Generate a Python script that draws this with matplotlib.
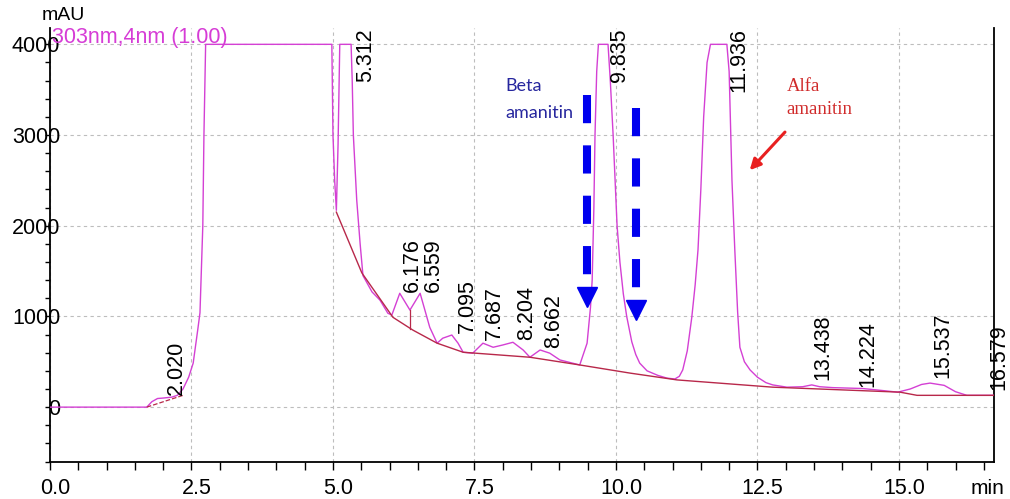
import matplotlib
matplotlib.use("Agg")
import matplotlib.pyplot as plt
import matplotlib.transforms as mtransforms
from matplotlib.ticker import MultipleLocator

# chromatogram trace (min, mAU)
t = [0.0, 1.6, 1.71, 1.8, 1.9, 2.0, 2.15, 2.25, 2.35, 2.45, 2.53, 2.61, 2.65, 2.70,
     2.72, 2.75, 4.98, 5.0, 5.03, 5.06, 5.09, 5.12, 5.32, 5.34, 5.36, 5.42, 5.48,
     5.53, 5.69, 5.83, 5.97, 6.04, 6.18, 6.36, 6.54, 6.71, 6.84, 6.94, 7.10, 7.21,
     7.30, 7.47, 7.65, 7.83, 8.00, 8.18, 8.36, 8.48, 8.66, 8.83, 9.01, 9.36, 9.49,
     9.55, 9.58, 9.61, 9.63, 9.66, 9.69, 9.86, 9.90, 9.95, 10.02, 10.07, 10.13,
     10.19, 10.28, 10.35, 10.42, 10.55, 10.74, 10.9, 11.04, 11.12, 11.18, 11.26,
     11.34, 11.40, 11.45, 11.50, 11.55, 11.61, 11.67, 11.96, 12.0, 12.05, 12.10,
     12.15, 12.19, 12.27, 12.37, 12.5, 12.65, 12.77, 13.02, 13.3, 13.46, 13.6,
     13.83, 14.1, 14.36, 14.6, 14.98, 15.2, 15.4, 15.55, 15.8, 16.0, 16.2, 16.68]
mau = [0, 0, 0, 60, 95, 100, 110, 130, 200, 330, 485, 850, 1040, 2000,
       3000, 4000, 4000, 3000, 2500, 2170, 2900, 4000, 4000, 3600, 3000, 2280, 1800,
       1450, 1270, 1180, 1035, 1015, 1255, 1070, 1255, 880, 705, 760, 795, 705,
       605, 595, 705, 660, 685, 715, 630, 550, 630, 595, 520, 465, 705,
       1100, 1400, 2200, 3000, 3700, 4000, 4000, 3600, 3000, 2000, 1600, 1250,
       1000, 720, 580, 485, 400, 350, 320, 310, 340, 410, 620,
       990, 1350, 1735, 2400, 3200, 3800, 4000, 4000, 3700, 2500, 1735,
       1050, 660, 500, 410, 330, 270, 245, 220, 225, 245, 225,
       215, 210, 205, 190, 165, 200, 250, 265, 240, 170, 130, 130]

# integration baseline
base_t = [5.06, 5.51, 6.06, 6.41, 6.84, 7.30, 8.48, 9.36, 10.25, 11.08, 12.77,
          15.02, 15.32, 16.68]
base_mau = [2150, 1480, 990, 850, 705, 605, 550, 465, 375, 300, 220, 165, 130, 130]
base0_t = [1.71, 2.35]
base0_mau = [0, 130]
drop_t = [6.36, 6.36]
drop_mau = [1070, 860]

peak_labels = ["2.020", "5.312", "6.176", "6.559", "7.095", "7.687", "8.204",
               "8.662", "9.835", "11.936", "13.438", "14.224", "15.537", "16.579"]
label_x = [2.24, 5.57, 6.40, 6.77, 7.37, 7.86, 8.43, 8.89, 10.07, 12.17,
           13.66, 14.45, 15.78, 16.76]
label_y = [132, 3585, 1270, 1270, 815, 740, 740, 650, 3585, 3475, 298, 220, 320, 188]

plt.rcParams['font.family'] = ['Liberation Sans', 'DejaVu Sans']

fig = plt.figure(figsize=(10.1, 4.99), dpi=100)
ax = fig.add_axes([50 / 1010, 37 / 499, 944 / 1010, 434 / 499])

ax.plot(t, mau, color='#d440d4', lw=1.0, zorder=3)
ax.plot(base_t, base_mau, color='#b8284a', lw=1.0, zorder=4)
ax.plot(base0_t, base0_mau, color='#b8284a', lw=0.9, ls='--', zorder=4)
ax.plot(drop_t, drop_mau, color='#b8284a', lw=0.9, zorder=4)

for s, x, y in zip(peak_labels, label_x, label_y):
    ax.text(x, y, s, rotation=90, ha='center', va='bottom', fontsize=15.5,
            color='black', clip_on=False, zorder=5)

# beta amanitin arrows
for x, y0, y1, yh in [(9.49, 3440, 1324, 1213), (10.35, 3298, 1180, 1070)]:
    ax.plot([x, x], [y0, y1], color='#0000ee', lw=5.8, ls=(0, (3.5, 2.75)),
            solid_capstyle='butt', dash_capstyle='butt', zorder=6)
    ax.plot(x, yh, marker='v', ms=15, color='#0000ee', zorder=6)

ax.text(8.04, 3540, "Beta", family='Lato', fontsize=13, color='#26269e',
        ha='left', va='center')
ax.text(8.04, 3243, "amanitin", family='Lato', fontsize=13, color='#26269e',
        ha='left', va='center')

ax.text(13.02, 3540, "Alfa", family='Liberation Serif', fontsize=13.5,
        color='#d02a2a', ha='left', va='center')
ax.text(13.02, 3276, "amanitin", family='Liberation Serif', fontsize=13.5,
        color='#d02a2a', ha='left', va='center')
ax.annotate("", xy=(12.33, 2590), xytext=(13.02, 3055),
            arrowprops=dict(arrowstyle='-|>', color='#e82020', lw=2.2,
                            mutation_scale=16))

ax.set_xlim(0, 16.68)
ax.set_ylim(-605, 4180)
ax.xaxis.set_major_locator(MultipleLocator(2.5))
ax.xaxis.set_minor_locator(MultipleLocator(0.5))
ax.yaxis.set_major_locator(MultipleLocator(1000))
ax.yaxis.set_minor_locator(MultipleLocator(200))
ax.xaxis.set_major_formatter(matplotlib.ticker.FormatStrFormatter('%.1f'))

ax.grid(True, which='major', color='#bdbdbd', ls=(0, (3, 3)), lw=0.8, zorder=0)
ax.set_axisbelow(True)

ax.spines['top'].set_visible(False)
for side in ['left', 'right', 'bottom']:
    ax.spines[side].set_linewidth(1.3)

ax.tick_params(axis='x', which='both', direction='out', length=5.8, width=1.0,
               labelsize=15.5, pad=5.5)
ax.tick_params(axis='y', which='both', direction='out', length=3.6, width=1.0,
               labelsize=15.5, pad=-11)
offset = mtransforms.ScaledTranslation(0.05, 0, fig.dpi_scale_trans)
for lab in ax.get_xticklabels():
    lab.set_transform(lab.get_transform() + offset)

fig.text(42 / 1010, 1 - 15 / 499, "mAU", fontsize=14, ha='left', va='center')
fig.text(52 / 1010, 1 - 38 / 499, "303nm,4nm (1.00)", fontsize=15.5,
         color='#d63cd6', ha='left', va='center')
fig.text(987 / 1010, 1 - 489 / 499, "min", fontsize=15, ha='center', va='center')

fig.savefig("out.png", dpi=100)
